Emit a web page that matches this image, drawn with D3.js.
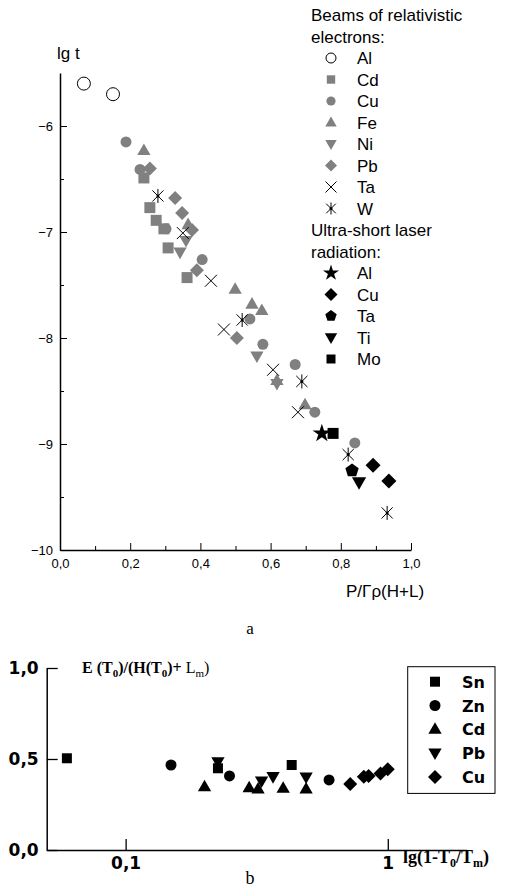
<!DOCTYPE html>
<html>
<head>
<meta charset="utf-8">
<script src="https://cdn.jsdelivr.net/npm/d3@7"></script>
<style>
  body { margin: 0; background: #fff; }
  svg { display: block; }
</style>
</head>
<body>
<svg id="chart" width="507" height="890"></svg>
<script>
// ---- panel a: lg t vs P/Γρ(H+L) ----
// beams of relativistic electrons [x, lg t]
const beamAl = [[0.068, -5.60], [0.151, -5.70]];
const beamCd = [[0.239, -6.49], [0.256, -6.77], [0.274, -6.89], [0.296, -6.97], [0.308, -7.15], [0.362, -7.43]];
const beamCu = [[0.188, -6.15], [0.228, -6.41], [0.302, -6.97], [0.405, -7.26], [0.541, -7.82],
                [0.578, -8.06], [0.670, -8.25], [0.726, -8.70], [0.840, -8.99]];
const beamFe = [[0.239, -6.23], [0.365, -6.93], [0.499, -7.54], [0.547, -7.68], [0.575, -7.74],
                [0.618, -8.40], [0.698, -8.63]];
const beamNi = [[0.342, -7.19], [0.359, -7.08], [0.561, -8.17], [0.618, -8.43]];
const beamPb = [[0.256, -6.40], [0.328, -6.68], [0.348, -6.82], [0.376, -6.98], [0.390, -7.36], [0.504, -8.00]];
const beamTa = [[0.350, -7.01], [0.430, -7.46], [0.467, -7.92], [0.607, -8.30], [0.678, -8.70]];
const beamW  = [[0.279, -6.66], [0.519, -7.83], [0.689, -8.41], [0.821, -9.10], [0.932, -9.65]];
// ultra-short laser radiation
const laserAl = [[0.746, -8.90]];
const laserCu = [[0.892, -9.20], [0.937, -9.35]];
const laserTa = [[0.832, -9.25]];
const laserTi = [[0.852, -9.36]];
const laserMo = [[0.778, -8.90]];

const xTicksA = [0, 0.2, 0.4, 0.6, 0.8, 1.0];
const xMinorA = [0.1, 0.3, 0.5, 0.7, 0.9];
const yTicksA = [-10, -9, -8, -7, -6];
const yMinorA = [-9.5, -8.5, -7.5, -6.5];

// ---- panel b: E(T0)/(H(T0)+Lm) vs lg(1-T0/Tm) ----
const bSn = [[0.0597, 0.504], [0.225, 0.449], [0.430, 0.467]];
const bZn = [[0.149, 0.467], [0.249, 0.407], [0.597, 0.385]];
const bCd = [[0.200, 0.348], [0.296, 0.342], [0.320, 0.335], [0.399, 0.339], [0.488, 0.335]];
const bPb = [[0.225, 0.485], [0.330, 0.379], [0.365, 0.403], [0.488, 0.401]];
const bCu = [[0.719, 0.363], [0.810, 0.403], [0.845, 0.407], [0.938, 0.421], [1.0, 0.443]];

const xTicksB = [0.1, 1];
const yTicksB = [0, 0.5, 1.0];

const GRAY = "#808080";
const comma = v => d3.format(".1f")(v).replace(".", ",");

// marker path generator, r = half size in px
function shape(type, r) {
  const p = d3.path();
  if (type === "circle") {
    p.arc(0, 0, r, 0, 2 * Math.PI);
  } else if (type === "square") {
    p.rect(-r, -r, 2 * r, 2 * r);
  } else if (type === "up" || type === "down") {
    const s = type === "up" ? 1 : -1;
    p.moveTo(0, -r * s);
    p.lineTo(r * 0.95, r * 0.65 * s);
    p.lineTo(-r * 0.95, r * 0.65 * s);
    p.closePath();
  } else if (type === "diamond") {
    p.moveTo(0, -r); p.lineTo(r, 0); p.lineTo(0, r); p.lineTo(-r, 0); p.closePath();
  } else if (type === "pentagon") {
    for (let i = 0; i < 5; i++) {
      const a = -Math.PI / 2 + i * 2 * Math.PI / 5;
      i ? p.lineTo(r * Math.cos(a), r * Math.sin(a)) : p.moveTo(r * Math.cos(a), r * Math.sin(a));
    }
    p.closePath();
  } else if (type === "star") {
    return d3.symbol(d3.symbolStar, r * r * 1.9)();
  } else if (type === "x") {
    p.moveTo(-r, -r); p.lineTo(r, r); p.moveTo(r, -r); p.lineTo(-r, r);
  } else if (type === "asterisk") {
    p.moveTo(0, -r); p.lineTo(0, r);
    const c = r * 0.8;
    p.moveTo(-c, -c); p.lineTo(c, c); p.moveTo(c, -c); p.lineTo(-c, c);
  }
  return p.toString();
}

function drawMarks(g, data, x, y, type, r, fill, stroke) {
  const line = type === "x" || type === "asterisk";
  g.selectAll(null)
    .data(data)
    .join("path")
    .attr("transform", d => `translate(${x(d[0])},${y(d[1])})`)
    .attr("d", shape(type, r))
    .attr("fill", line ? "none" : fill)
    .attr("stroke", line ? "#000" : stroke)
    .attr("stroke-width", 1);
  if (type === "asterisk") {
    g.selectAll(null)
      .data(data)
      .join("circle")
      .attr("cx", d => x(d[0])).attr("cy", d => y(d[1]))
      .attr("r", 1.5).attr("fill", "#000");
  }
}

const svg = d3.select("#chart");
svg.append("rect").attr("width", 507).attr("height", 890).attr("fill", "#fff");

// ================= panel a =================
const xA = d3.scaleLinear().domain([0, 1]).range([60, 411]);
const yA = d3.scaleLinear().domain([-10, -5.5]).range([550, 73]);

const gA = svg.append("g").attr("font-family", "'Liberation Sans', Arial, sans-serif");

gA.append("g")
  .attr("transform", "translate(0,550)")
  .call(d3.axisBottom(xA).tickValues(xTicksA).tickFormat(comma).tickSizeInner(-7).tickSizeOuter(0).tickPadding(9))
  .call(a => a.selectAll("text").attr("font-size", 13).attr("font-family", "'Liberation Sans', Arial, sans-serif"));
gA.append("g")
  .attr("transform", "translate(0,550)")
  .call(d3.axisBottom(xA).tickValues(xMinorA).tickFormat("").tickSizeInner(-4).tickSizeOuter(0))
  .call(a => a.select(".domain").remove());

gA.append("g")
  .attr("transform", "translate(60,0)")
  .call(d3.axisLeft(yA).tickValues(yTicksA).tickFormat(d3.format("d")).tickSizeInner(-7).tickSizeOuter(0).tickPadding(7))
  .call(a => a.selectAll("text").attr("font-size", 13).attr("font-family", "'Liberation Sans', Arial, sans-serif"));
gA.append("g")
  .attr("transform", "translate(60,0)")
  .call(d3.axisLeft(yA).tickValues(yMinorA).tickFormat("").tickSizeInner(-4).tickSizeOuter(0))
  .call(a => a.select(".domain").remove());

gA.selectAll(".domain").attr("stroke-width", 1.5);

gA.append("text").attr("x", 57).attr("y", 59).attr("font-size", 17).text("lg t");
gA.append("text").attr("x", 346).attr("y", 597).attr("font-size", 17).text("P/Γρ(H+L)");

const plotA = gA.append("g");
drawMarks(plotA, beamAl, xA, yA, "circle", 6.5, "#fff", "#000");
drawMarks(plotA, beamCd, xA, yA, "square", 5.5, GRAY, "none");
drawMarks(plotA, beamCu, xA, yA, "circle", 5.5, GRAY, "none");
drawMarks(plotA, beamFe, xA, yA, "up", 7, GRAY, "none");
drawMarks(plotA, beamNi, xA, yA, "down", 7, GRAY, "none");
drawMarks(plotA, beamPb, xA, yA, "diamond", 7, GRAY, "none");
drawMarks(plotA, beamTa, xA, yA, "x", 6, null, null);
drawMarks(plotA, beamW, xA, yA, "asterisk", 7, null, null);
drawMarks(plotA, laserAl, xA, yA, "star", 7.5, "#000", "none");
drawMarks(plotA, laserCu, xA, yA, "diamond", 7.5, "#000", "none");
drawMarks(plotA, laserTa, xA, yA, "pentagon", 7, "#000", "none");
drawMarks(plotA, laserTi, xA, yA, "down", 7.5, "#000", "none");
drawMarks(plotA, laserMo, xA, yA, "square", 5.5, "#000", "none");

// legend a
const legA = [
  { text: "Beams of relativistic" },
  { text: "electrons:" },
  { text: "Al", type: "circle", r: 5, fill: "#fff", stroke: "#000" },
  { text: "Cd", type: "square", r: 4.2, fill: GRAY },
  { text: "Cu", type: "circle", r: 4.6, fill: GRAY },
  { text: "Fe", type: "up", r: 6, fill: GRAY },
  { text: "Ni", type: "down", r: 6, fill: GRAY },
  { text: "Pb", type: "diamond", r: 6, fill: GRAY },
  { text: "Ta", type: "x", r: 5.5 },
  { text: "W", type: "asterisk", r: 6 },
  { text: "Ultra-short laser" },
  { text: "radiation:" },
  { text: "Al", type: "star", r: 6.5, fill: "#000" },
  { text: "Cu", type: "diamond", r: 6.5, fill: "#000" },
  { text: "Ta", type: "pentagon", r: 6, fill: "#000" },
  { text: "Ti", type: "down", r: 6.5, fill: "#000" },
  { text: "Mo", type: "square", r: 4.5, fill: "#000" }
];
legA.forEach((d, i) => {
  const cy = 15 + 21.5 * i;
  if (!d.type) {
    gA.append("text").attr("x", 311).attr("y", cy + 6).attr("font-size", 17).text(d.text);
    return;
  }
  drawMarks(gA, [[0, 0]], () => 331, () => cy, d.type, d.r, d.fill, d.stroke || "none");
  gA.append("text").attr("x", 357).attr("y", cy + 6).attr("font-size", 17).text(d.text);
});

gA.append("text").attr("x", 250).attr("y", 634).attr("text-anchor", "middle")
  .attr("font-family", "'Liberation Serif', 'Times New Roman', serif").attr("font-size", 17).text("a");

// ================= panel b =================
const xB = d3.scaleLog().domain([0.05, 2]).range([46.7, 466.7]);
const yB = d3.scaleLinear().domain([0, 1]).range([850, 668]);
const gB = svg.append("g");
const bold = "'DejaVu Sans', Verdana, sans-serif";

gB.append("g")
  .attr("transform", "translate(0,850)")
  .call(d3.axisBottom(xB).tickValues(xTicksB).tickFormat(d => d === 1 ? "1" : comma(d)).tickSizeInner(-11).tickSizeOuter(0).tickPadding(7))
  .call(a => a.selectAll("text").attr("font-size", 17).attr("font-weight", "bold").attr("font-family", bold));
gB.append("g")
  .attr("transform", "translate(46.7,0)")
  .call(d3.axisLeft(yB).tickValues(yTicksB).tickFormat(comma).tickSizeInner(-11).tickSizeOuter(0).tickPadding(8))
  .call(a => a.selectAll("text").attr("font-size", 17).attr("font-weight", "bold").attr("font-family", bold));
gB.selectAll(".domain").attr("stroke-width", 1.5);
gB.selectAll(".tick line").attr("stroke-width", 1.3);

// y-axis title
const serif = "'Liberation Serif', 'Times New Roman', serif";
const yt = gB.append("text").attr("x", 82).attr("y", 673)
  .attr("font-family", serif).attr("font-size", 16).attr("font-weight", "bold");
yt.append("tspan").text("E (T");
yt.append("tspan").attr("font-size", 11).attr("dy", 4).text("0");
yt.append("tspan").attr("dy", -4).text(")/(H(T");
yt.append("tspan").attr("font-size", 11).attr("dy", 4).text("0");
yt.append("tspan").attr("dy", -4).text(")+ ");
yt.append("tspan").attr("font-weight", "normal").text("L");
yt.append("tspan").attr("font-weight", "normal").attr("font-size", 11).attr("dy", 4).text("m");
yt.append("tspan").attr("font-weight", "normal").attr("dy", -4).text(")");

// x-axis title
const xt = gB.append("text").attr("x", 403).attr("y", 863)
  .attr("font-family", serif).attr("font-size", 18).attr("font-weight", "bold");
xt.append("tspan").text("lg(1-T");
xt.append("tspan").attr("font-size", 12).attr("dy", 4).text("0");
xt.append("tspan").attr("dy", -4).text("/T");
xt.append("tspan").attr("font-size", 12).attr("dy", 4).text("m");
xt.append("tspan").attr("dy", -4).text(")");

gB.append("text").attr("x", 250).attr("y", 884).attr("text-anchor", "middle")
  .attr("font-family", serif).attr("font-size", 18).text("b");

const plotB = gB.append("g");
drawMarks(plotB, bSn, xB, yB, "square", 5, "#000", "none");
drawMarks(plotB, bZn, xB, yB, "circle", 5.5, "#000", "none");
drawMarks(plotB, bCd, xB, yB, "up", 7, "#000", "none");
drawMarks(plotB, bPb, xB, yB, "down", 7, "#000", "none");
drawMarks(plotB, bCu, xB, yB, "diamond", 7, "#000", "none");

// legend b
gB.append("rect").attr("x", 407.7).attr("y", 666.7).attr("width", 87.3).attr("height", 126.7)
  .attr("fill", "none").attr("stroke", "#000").attr("stroke-width", 1);
const legB = [
  { text: "Sn", type: "square", r: 5 },
  { text: "Zn", type: "circle", r: 5.5 },
  { text: "Cd", type: "up", r: 7 },
  { text: "Pb", type: "down", r: 7 },
  { text: "Cu", type: "diamond", r: 7 }
];
legB.forEach((d, i) => {
  const cy = 681.7 + 23.8 * i;
  drawMarks(gB, [[0, 0]], () => 435, () => cy, d.type, d.r, "#000", "none");
  gB.append("text").attr("x", 462).attr("y", cy + 6).attr("font-family", bold)
    .attr("font-weight", "bold").attr("font-size", 16).text(d.text);
});
</script>
</body>
</html>
